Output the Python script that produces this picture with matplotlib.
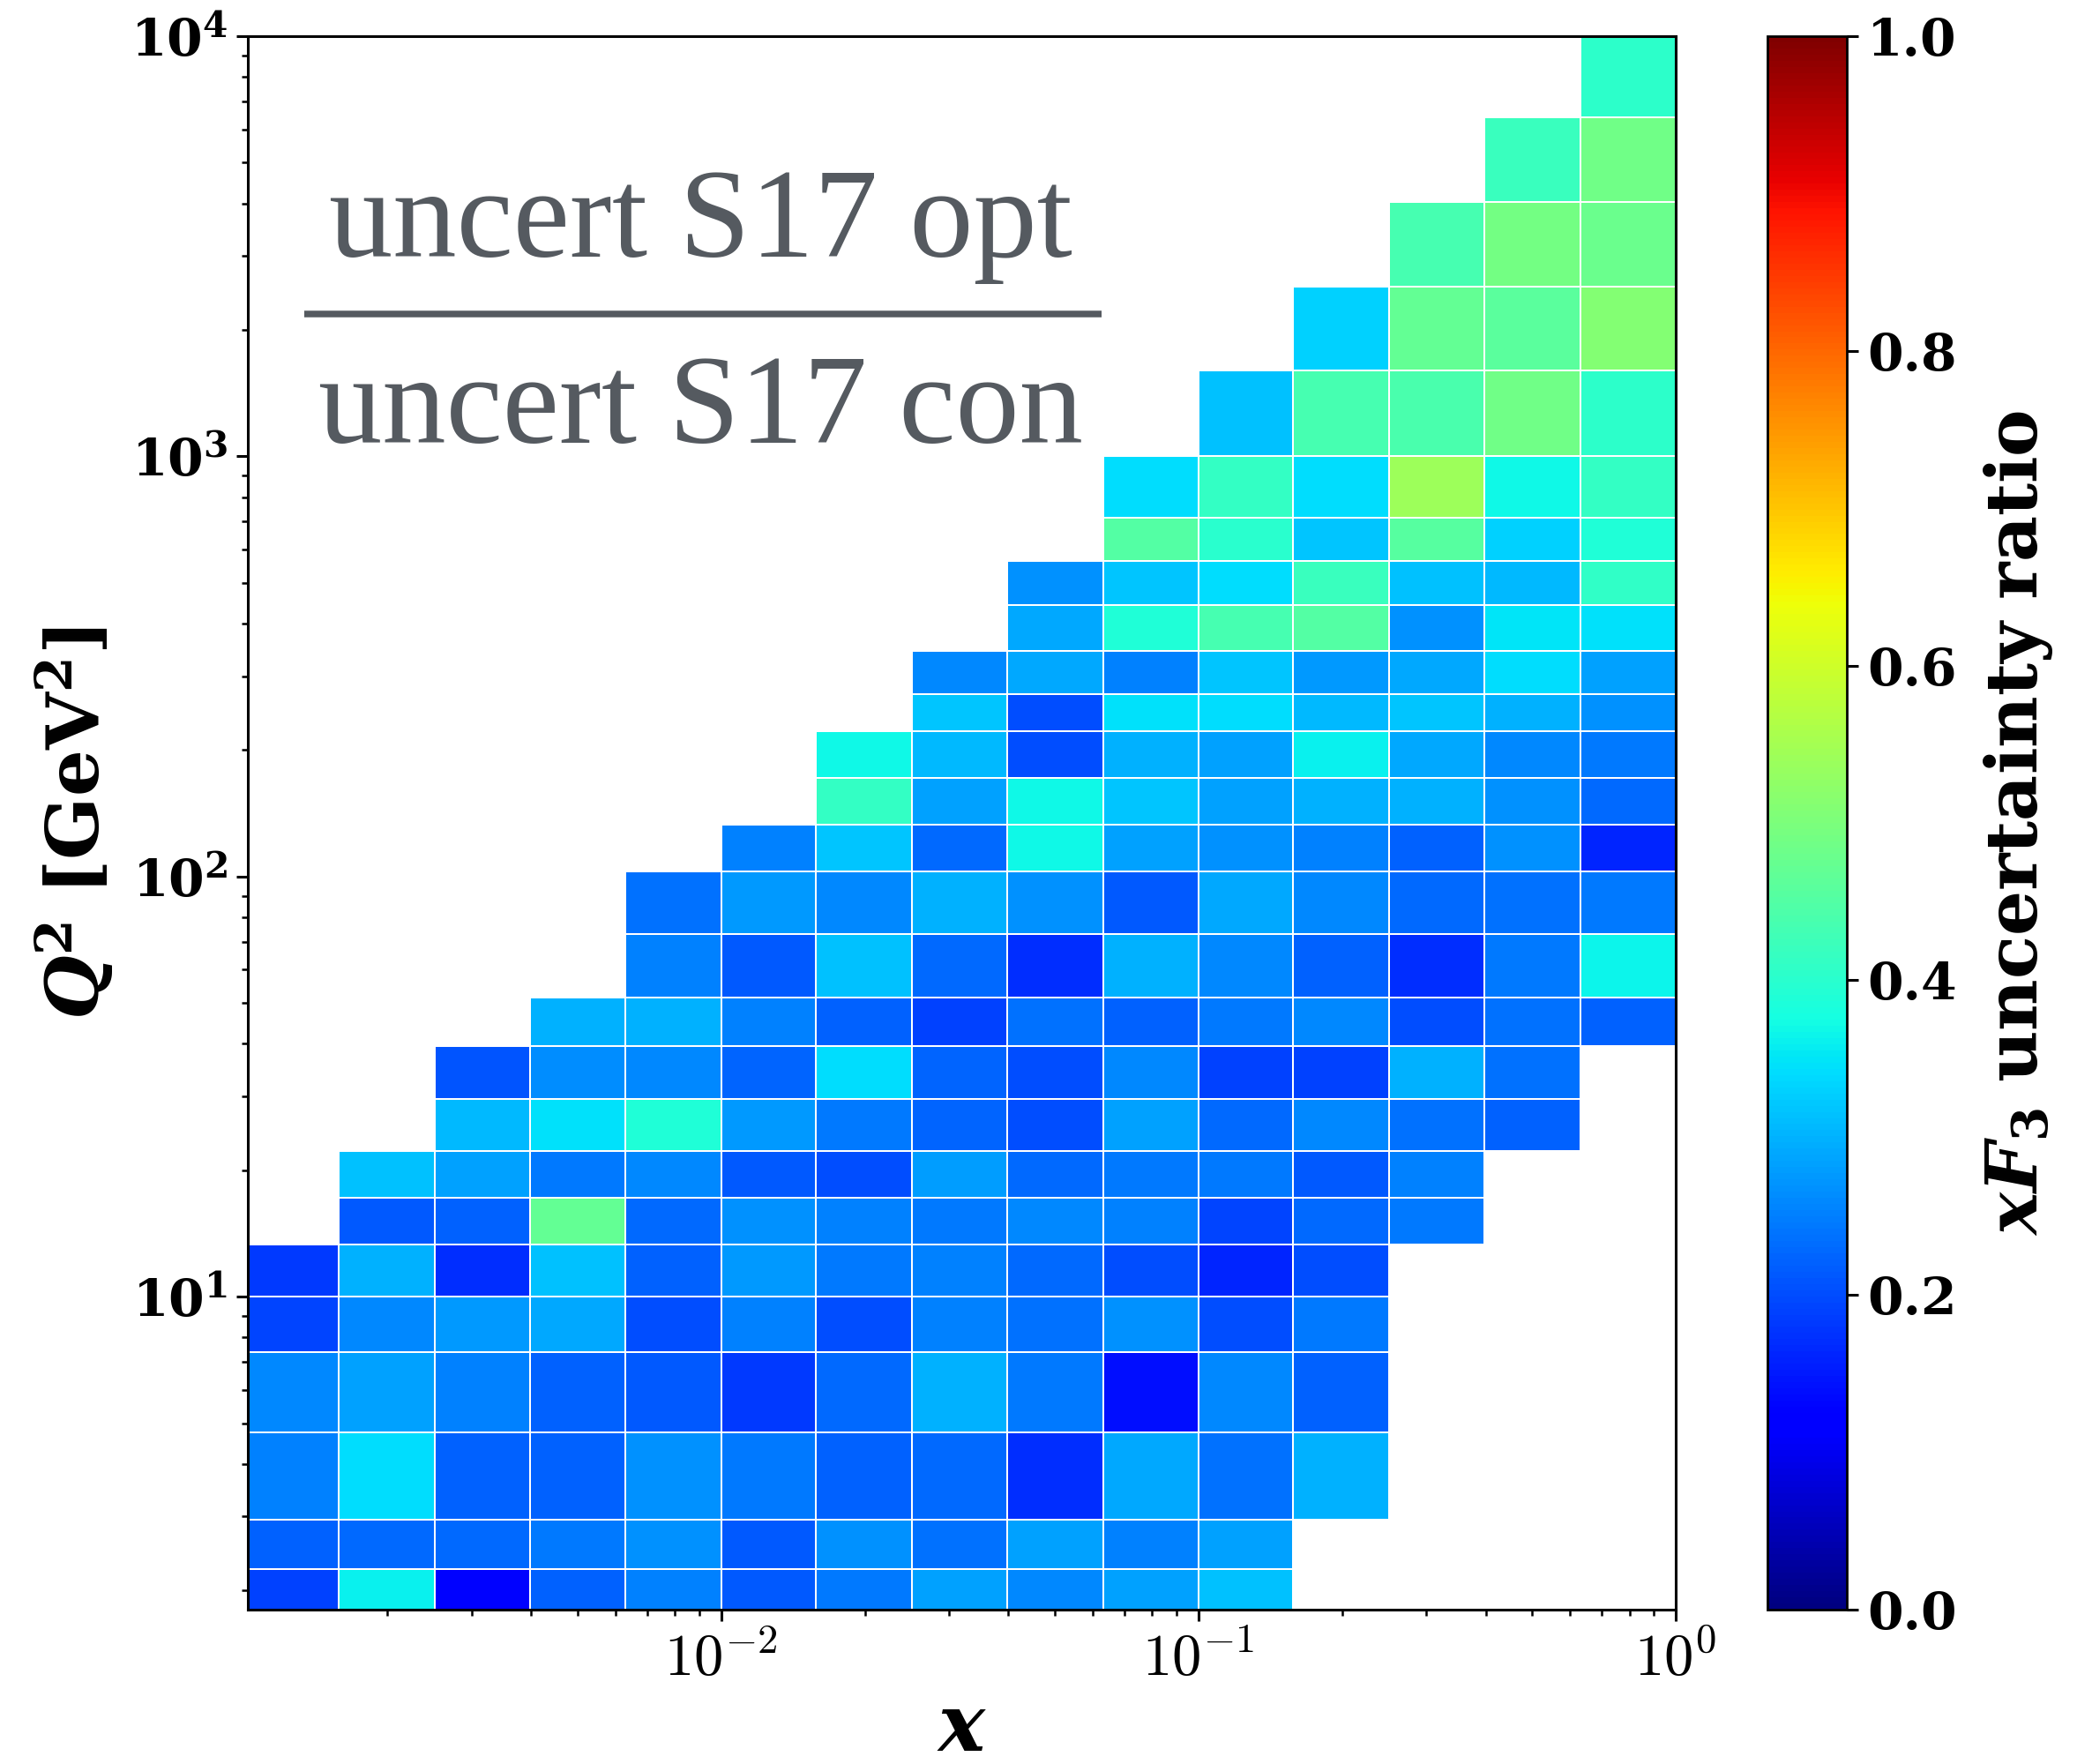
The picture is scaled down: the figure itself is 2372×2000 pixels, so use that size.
import numpy as np
import matplotlib
matplotlib.use('Agg')
import matplotlib.pyplot as plt
from matplotlib.ticker import FixedLocator, LogLocator, NullFormatter

plt.rcParams['mathtext.fontset'] = 'custom'
plt.rcParams['mathtext.rm'] = 'DejaVu Serif'
plt.rcParams['mathtext.it'] = 'DejaVu Serif:italic'
plt.rcParams['mathtext.bf'] = 'DejaVu Serif:bold'
plt.rcParams['mathtext.bfit'] = 'DejaVu Serif:italic:bold'
plt.rcParams['axes.unicode_minus'] = True

n = np.nan

# bin edges
x_edges = [0.001, 0.00158, 0.00251, 0.00398, 0.00631, 0.01, 0.0158, 0.0251,
           0.0398, 0.0631, 0.1, 0.158, 0.251, 0.398, 0.631, 1.0]
q2_edges = [1.8, 2.25, 2.95, 4.75, 7.4, 10, 13.3, 17.2, 22.2, 29.5, 39.5, 51.6,
            73, 103, 133, 172, 222, 272, 344, 443, 565, 713, 1000, 1600, 2540,
            4030, 6400, 10000]

# uncertainty ratio, rows = Q^2 bins (bottom to top), columns = x bins
ratio = [
    [0.19, 0.36, 0.125, 0.22, 0.25, 0.211, 0.243, 0.285, 0.258, 0.282, 0.313, n, n, n, n],
    [0.22, 0.227, 0.227, 0.243, 0.266, 0.211, 0.266, 0.235, 0.282, 0.25, 0.282, n, n, n, n],
    [0.25, 0.34, 0.22, 0.22, 0.266, 0.243, 0.22, 0.227, 0.17, 0.29, 0.235, 0.30, n, n, n],
    [0.258, 0.282, 0.25, 0.22, 0.211, 0.18, 0.227, 0.30, 0.243, 0.14, 0.258, 0.22, n, n, n],
    [0.195, 0.258, 0.274, 0.29, 0.2, 0.25, 0.2, 0.25, 0.235, 0.266, 0.2, 0.243, n, n, n],
    [0.18, 0.30, 0.17, 0.313, 0.22, 0.274, 0.243, 0.25, 0.227, 0.2, 0.164, 0.2, n, n, n],
    [n, 0.211, 0.22, 0.47, 0.227, 0.266, 0.25, 0.243, 0.258, 0.25, 0.195, 0.227, 0.243, n, n],
    [n, 0.313, 0.282, 0.243, 0.258, 0.211, 0.2, 0.28, 0.227, 0.243, 0.243, 0.211, 0.25, n, n],
    [n, n, 0.305, 0.345, 0.39, 0.274, 0.243, 0.225, 0.2, 0.282, 0.227, 0.258, 0.235, 0.22, n],
    [n, n, 0.21, 0.262, 0.258, 0.224, 0.34, 0.225, 0.2, 0.258, 0.19, 0.19, 0.30, 0.235, n],
    [n, n, n, 0.30, 0.30, 0.25, 0.22, 0.19, 0.235, 0.22, 0.243, 0.258, 0.2, 0.235, 0.22],
    [n, n, n, n, 0.25, 0.211, 0.313, 0.227, 0.17, 0.30, 0.258, 0.22, 0.17, 0.243, 0.365],
    [n, n, n, n, 0.235, 0.274, 0.258, 0.30, 0.266, 0.211, 0.29, 0.258, 0.227, 0.235, 0.243],
    [n, n, n, n, n, 0.25, 0.32, 0.227, 0.37, 0.282, 0.266, 0.25, 0.22, 0.266, 0.164],
    [n, n, n, n, n, n, 0.414, 0.285, 0.37, 0.32, 0.282, 0.30, 0.30, 0.266, 0.227],
    [n, n, n, n, n, n, 0.37, 0.305, 0.2, 0.30, 0.282, 0.36, 0.29, 0.258, 0.243],
    [n, n, n, n, n, n, n, 0.32, 0.2, 0.345, 0.34, 0.305, 0.32, 0.30, 0.266],
    [n, n, n, n, n, n, n, 0.258, 0.29, 0.25, 0.32, 0.274, 0.29, 0.34, 0.282],
    [n, n, n, n, n, n, n, n, 0.29, 0.39, 0.435, 0.45, 0.266, 0.35, 0.345],
    [n, n, n, n, n, n, n, n, 0.266, 0.32, 0.34, 0.42, 0.313, 0.305, 0.41],
    [n, n, n, n, n, n, n, n, n, 0.45, 0.40, 0.32, 0.455, 0.33, 0.39],
    [n, n, n, n, n, n, n, n, n, 0.34, 0.414, 0.34, 0.54, 0.37, 0.414],
    [n, n, n, n, n, n, n, n, n, n, 0.313, 0.435, 0.44, 0.485, 0.405],
    [n, n, n, n, n, n, n, n, n, n, n, 0.33, 0.47, 0.46, 0.51],
    [n, n, n, n, n, n, n, n, n, n, n, n, 0.435, 0.49, 0.477],
    [n, n, n, n, n, n, n, n, n, n, n, n, n, 0.42, 0.485],
    [n, n, n, n, n, n, n, n, n, n, n, n, n, n, 0.405],
]

x_ticks = [1e-2, 1e-1, 1e0]
x_ticklabels = [r'$10^{-2}$', r'$10^{-1}$', r'$10^{0}$']
y_ticks = [1e1, 1e2, 1e3, 1e4]
y_ticklabels = [r'$\mathbf{10^{1}}$', r'$\mathbf{10^{2}}$', r'$\mathbf{10^{3}}$', r'$\mathbf{10^{4}}$']
cb_ticks = [0.0, 0.2, 0.4, 0.6, 0.8, 1.0]
cb_ticklabels = ['0.0', '0.2', '0.4', '0.6', '0.8', '1.0']

fig = plt.figure(figsize=(11.86, 10), dpi=200)
ax = fig.add_axes([0.1185, 0.0875, 0.6825, 0.892])
cax = fig.add_axes([0.845, 0.0875, 0.038, 0.892])

Z = np.ma.masked_invalid(np.array(ratio))
mesh = ax.pcolormesh(x_edges, q2_edges, Z, cmap='jet', vmin=0, vmax=1,
                     edgecolors='white', linewidth=0.6)
ax.set_xscale('log')
ax.set_yscale('log')
ax.set_xlim(1.02e-3, 1.0)
ax.set_ylim(1.8, 1e4)

ax.xaxis.set_major_locator(FixedLocator(x_ticks))
ax.set_xticklabels(x_ticklabels, math_fontfamily='cm')
ax.xaxis.set_minor_locator(LogLocator(base=10, subs=np.arange(2, 10), numticks=20))
ax.xaxis.set_minor_formatter(NullFormatter())
ax.yaxis.set_major_locator(FixedLocator(y_ticks))
ax.set_yticklabels(y_ticklabels)
ax.yaxis.set_minor_locator(LogLocator(base=10, subs=np.arange(2, 10), numticks=20))
ax.yaxis.set_minor_formatter(NullFormatter())

ax.tick_params(which='major', length=4.7, width=1.1, labelsize=24)
ax.tick_params(axis='y', which='major', labelsize=21)
ax.tick_params(which='minor', length=2.4, width=0.9)
for s in ax.spines.values():
    s.set_linewidth(1.1)

ax.set_xlabel(r'$\boldsymbol{x}$', fontsize=32, labelpad=1)
ax.set_ylabel(r'$\boldsymbol{Q}^{\mathbf{2}}\ \mathbf{[GeV^{2}]}$', fontsize=30, labelpad=6)

txt_color = '#555a60'
ax.text(0.317, 0.860, 'uncert S17 opt', transform=ax.transAxes, ha='center',
        va='baseline', fontsize=52, family='Liberation Serif', color=txt_color)
ax.text(0.317, 0.7416, 'uncert S17 con', transform=ax.transAxes, ha='center',
        va='baseline', fontsize=52, family='Liberation Serif', color=txt_color)
ax.plot([0.0395, 0.598], [0.8237, 0.8237], transform=ax.transAxes,
        color=txt_color, lw=2.7, solid_capstyle='butt', clip_on=False)

cb = fig.colorbar(mesh, cax=cax)
cb.set_ticks(cb_ticks)
cb.set_ticklabels(cb_ticklabels, family='DejaVu Serif', weight='bold')
cax.tick_params(length=4.7, width=1.1, labelsize=21)
cb.outline.set_linewidth(1.0)
cb.set_label(r'$\boldsymbol{x}\boldsymbol{F}_{\mathbf{3}}\ \mathbf{uncertainty\ ratio}$',
             fontsize=29, labelpad=10)

fig.savefig('out.png', dpi=200)
